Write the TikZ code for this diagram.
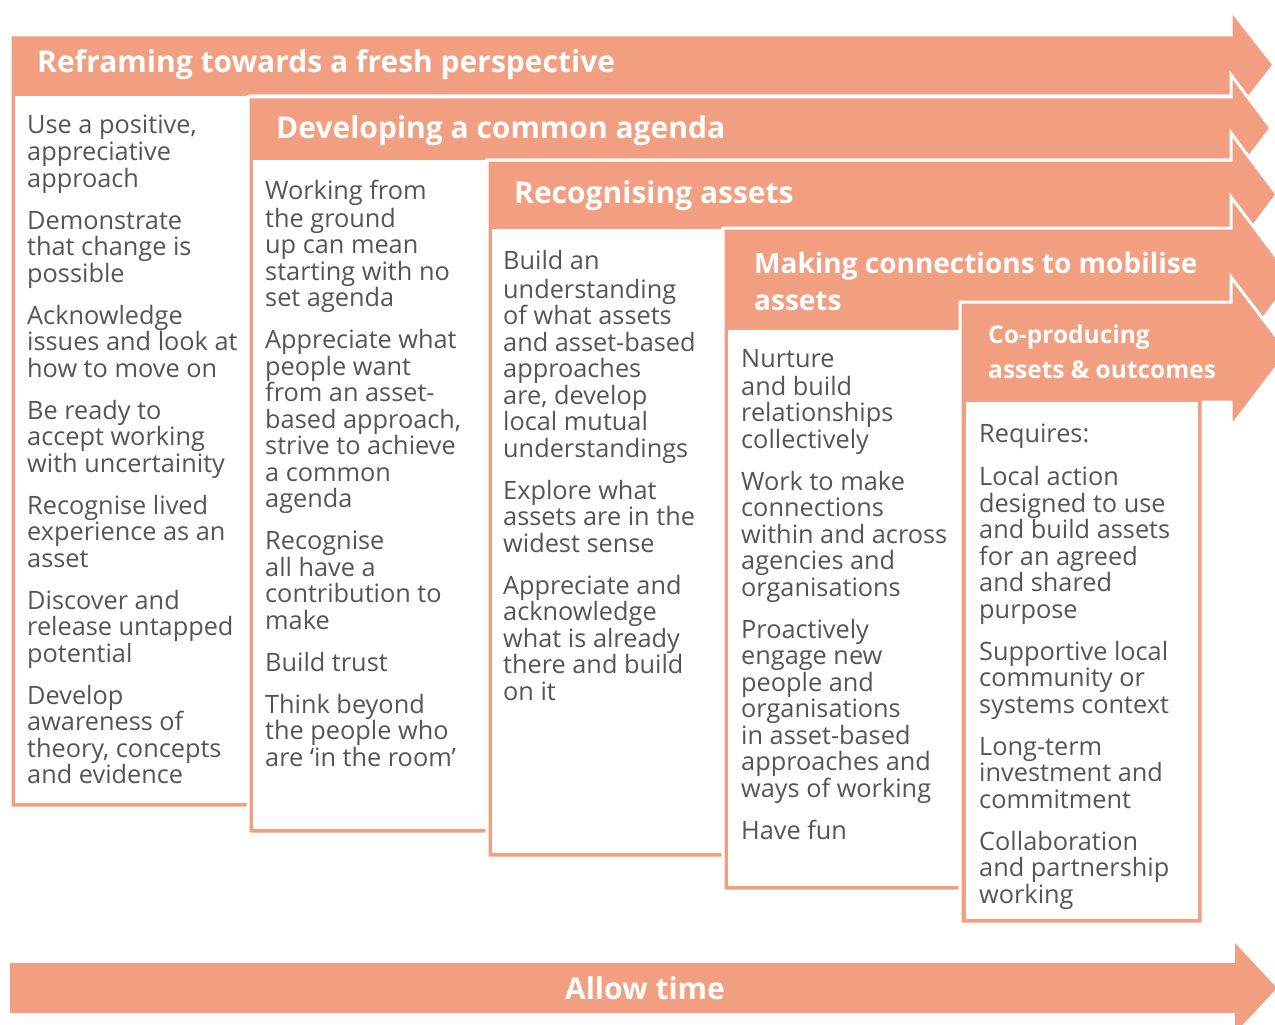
\documentclass[tikz,border=0pt]{standalone}
\usepackage{fontspec}
\setmainfont{Open Sans}
\definecolor{salmon}{HTML}{F19F80}
\definecolor{txt}{HTML}{555555}
\begin{document}
\begin{tikzpicture}[x=1pt,y=-1pt,
  stage/.style={fill=salmon, draw=white, line width=3pt, line join=miter},
  innerbox/.style={fill=white},
  body/.style={anchor=north west, inner sep=0pt, align=left, text=txt, font=\fontsize{25.3}{26.5}\selectfont},
  head/.style={anchor=base west, inner sep=0pt, text=white, font=\fontsize{30}{37}\selectfont\bfseries},
  headmid/.style={anchor=base west, inner sep=0pt, text=white, font=\fontsize{28}{37}\selectfont\bfseries},
  headsmall/.style={anchor=base west, inner sep=0pt, text=white, font=\fontsize{24.5}{35}\selectfont\bfseries}]
\useasboundingbox (0,0) rectangle (1275,1025);
\clip (0,0) rectangle (1275,1025);

% Stage 1
\draw[stage] (10,808) -- (10,35) -- (1231,35) -- (1231,10) -- (1274,65) -- (1231,120) -- (1231,96) -- (250,96) -- (250,808) -- cycle;
\fill[innerbox] (15,96) rectangle (250,803);
% Stage 2
\draw[stage] (248,834) -- (248,97) -- (1231,97) -- (1231,75) -- (1271,128) -- (1231,181) -- (1231,160) -- (487,160) -- (487,834) -- cycle;
\fill[innerbox] (253,160) rectangle (487,829);
% Stage 3
\draw[stage] (487,858) -- (487,160) -- (1231,160) -- (1231,133) -- (1277,194.5) -- (1231,256) -- (1231,229) -- (723,229) -- (723,858) -- cycle;
\fill[innerbox] (492,229) rectangle (723,853);
% Stage 4
\draw[stage] (723,891) -- (723,228) -- (1231,228) -- (1231,197) -- (1293,279) -- (1231,361) -- (1231,330) -- (960,330) -- (960,891) -- cycle;
\fill[innerbox] (728,330) rectangle (960,886);
% Stage 5
\draw[stage] (960,924) -- (960,302) -- (1231,302) -- (1231,277) -- (1288,352) -- (1231,427) -- (1231,402) -- (1203,402) -- (1203,924) -- cycle;
\fill[innerbox] (966,402) rectangle (1198,919);
% Allow time
\fill[salmon] (10,963) -- (1235,963) -- (1235,943) -- (1277,988) -- (1235,1033) -- (1235,1013) -- (10,1013) -- cycle;

% Headers
\node[head] (h1) at (37,73) {Reframing towards a fresh perspective};
\node[head] (h2) at (276,138) {Developing a common agenda};
\node[head] (h3) at (514,203) {Recognising assets};
\node[headmid] (h4a) at (754,273) {Making connections to mobilise};
\node[headmid] (h4b) at (754,310) {assets};
\node[headsmall] (h5a) at (988,343) {Co-producing};
\node[headsmall] (h5b) at (988,378) {assets \& outcomes};
\node[head, anchor=base] (at) at (645,999) {Allow time};

% Body texts
\node[body] (b1) at (27,114.45) {\strut Use a positive,\\ appreciative\\ approach\\[15.5pt]
Demonstrate\\ that change is\\ possible\\[15.5pt]
Acknowledge\\ issues and look at\\ how to move on\\[15.5pt]
Be ready to\\ accept working\\ with uncertainity\\[15.5pt]
Recognise lived\\ experience as an\\ asset\\[15.5pt]
Discover and\\ release untapped\\ potential\\[15.5pt]
Develop\\ awareness of\\ theory, concepts\\ and evidence};

\node[body] (b2) at (265,179.45) {\strut Working from\\ the ground\\ up can mean\\ starting with no\\ set agenda\\[15.5pt]
Appreciate what\\ people want\\ from an asset-\\ based approach,\\ strive to achieve\\ a common\\ agenda\\[15.5pt]
Recognise\\ all have a\\ contribution to\\ make\\[15.5pt]
Build trust\\[15.5pt]
Think beyond\\ the people who\\ are `in the room'};

\node[body] (b3) at (503,250.45) {\strut Build an\\ understanding\\ of what assets\\ and asset-based\\ approaches\\ are, develop\\ local mutual\\ understandings\\[15.5pt]
Explore what\\ assets are in the\\ widest sense\\[15.5pt]
Appreciate and\\ acknowledge\\ what is already\\ there and build\\ on it};

\node[body] (b4) at (741,348.45) {\strut Nurture\\ and build\\ relationships\\ collectively\\[15.5pt]
Work to make\\ connections\\ within and across\\ agencies and\\ organisations\\[15.5pt]
Proactively\\ engage new\\ people and\\ organisations\\ in asset-based\\ approaches and\\ ways of working\\[15.5pt]
Have fun};

\node[body] (b5) at (979,423.45) {\strut Requires:\\[15.5pt]
Local action\\ designed to use\\ and build assets\\ for an agreed\\ and shared\\ purpose\\[15.5pt]
Supportive local\\ community or\\ systems context\\[15.5pt]
Long-term\\ investment and\\ commitment\\[15.5pt]
Collaboration\\ and partnership\\ working};
\end{tikzpicture}
\end{document}
